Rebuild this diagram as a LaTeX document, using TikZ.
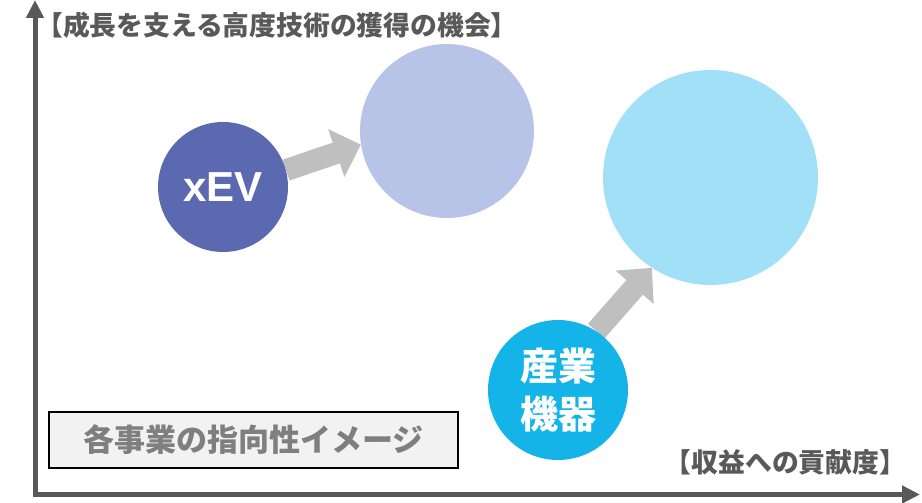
\documentclass[tikz,border=0pt]{standalone}
\usepackage{fontspec}
\usetikzlibrary{arrows.meta,backgrounds}
\newfontfamily\jp{Noto Sans CJK JP}
\newfontfamily\lat{Liberation Sans}
\definecolor{axisgray}{HTML}{595959}
\definecolor{textgray}{HTML}{7F7F7F}
\definecolor{arrgray}{HTML}{BFBFBF}
\definecolor{xevc}{HTML}{5B69B0}
\definecolor{lightc}{HTML}{B8C3E8}
\definecolor{bigc}{HTML}{A1E0F7}
\definecolor{sanc}{HTML}{14B3E8}
\definecolor{boxfill}{HTML}{F2F2F2}
\begin{document}
\begin{tikzpicture}[x=1pt,y=1pt,
  axisline/.style={draw=axisgray,line width=5pt,-{Triangle[width=17pt,length=18pt]}},
  blockarrow/.style={draw=arrgray,line width=22pt,-{Triangle[width=49pt,length=26pt]}},
  bubble/.style={circle,inner sep=0pt,draw=none,text=white,align=center},
  axislabel/.style={font=\jp\bfseries\fontsize{26.8}{30}\selectfont,text=axisgray,inner sep=0pt}
]
\useasboundingbox (0,0) rectangle (922,503);
% axes
\coordinate (ybot) at (35,6);
\coordinate (ytop) at (35,503);
\coordinate (xbeg) at (33,8.5);
\coordinate (xend) at (920,8.5);
\draw[axisline] (ybot) -- (ytop);
\draw[axisline] (xbeg) -- (xend);
% labels
\node[axislabel] (ylab) at (277,478) {【成長を支える高度技術の獲得の機会】};
\node[axislabel] (xlab) at (785.5,41) {【収益への貢献度】};
% bubbles
\node[bubble,fill=lightc,minimum size=174pt] (light) at (447,372) {};
\node[bubble,fill=bigc,minimum size=215pt] (big) at (710.5,325.5) {};
\node[bubble,fill=xevc,minimum size=130pt,font=\lat\bfseries\fontsize{42}{48}\selectfont] (xev) at (223,316) {xEV};
\node[bubble,fill=sanc,minimum size=140pt,font=\jp\bfseries\fontsize{38}{48}\selectfont] (sangyo) at (558,113) {産業\\機器};
\begin{scope}[on background layer]
\draw[blockarrow] (xev.15) -- (light.189);
\draw[blockarrow] (sangyo.57) -- (big.237);
\end{scope}
% legend box
\node[draw=black,line width=1.5pt,fill=boxfill,minimum width=409pt,minimum height=56pt,inner sep=0pt,
  font=\jp\bfseries\fontsize{31}{36}\selectfont,text=textgray] (legend) at (253.5,63) {各事業の指向性イメージ};
\end{tikzpicture}
\end{document}
